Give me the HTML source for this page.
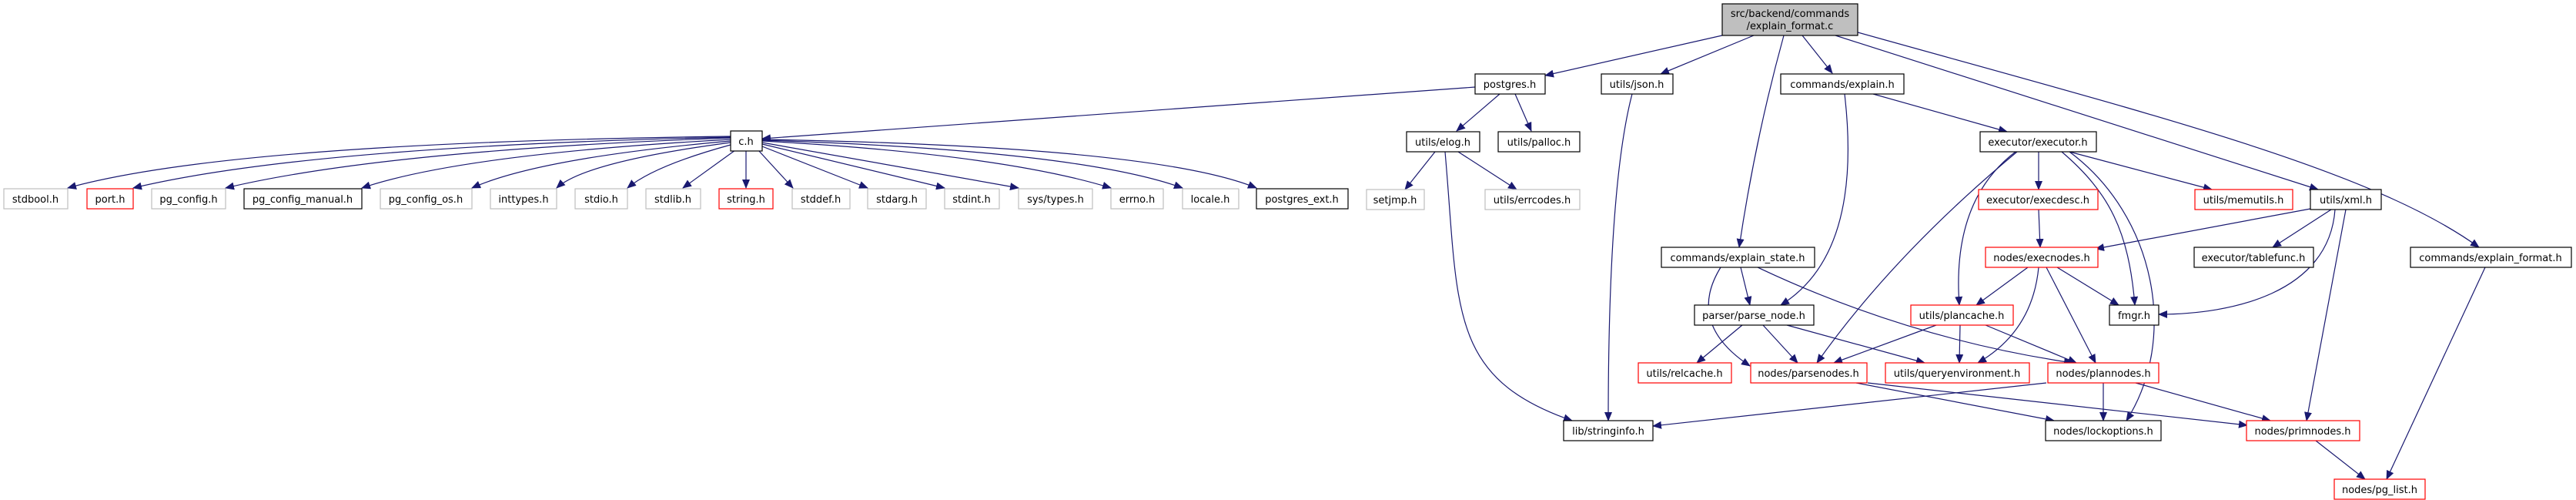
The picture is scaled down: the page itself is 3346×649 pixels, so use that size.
<!DOCTYPE html>
<html><head><meta charset="utf-8"><style>
html,body{margin:0;padding:0;background:#fff}
svg{display:block}
text{font-family:"DejaVu Sans","Liberation Sans",sans-serif;font-size:13px;fill:#000;text-anchor:middle}
.b{fill:#fff;stroke:#000;stroke-width:1.2}
.g{fill:#fff;stroke:#bfbfbf;stroke-width:1.2}
.r{fill:#fff;stroke:#ff0000;stroke-width:1.2}
.e{fill:none;stroke:#191970;stroke-width:1.2;marker-end:url(#a)}
</style></head><body>
<svg width="3346" height="649" viewBox="0 0 3346 649" xmlns="http://www.w3.org/2000/svg">
<defs><marker id="a" markerWidth="12" markerHeight="10" refX="11" refY="5" orient="auto" markerUnits="userSpaceOnUse"><path d="M0,0 L12,5 L0,10 Z" fill="#191970"/></marker></defs>

<!-- edges -->
<path class="e" d="M2237,46 L2007,98"/>
<path class="e" d="M2278,46 L2157,96"/>
<path class="e" d="M2317,46 Q2280,180 2259,321"/>
<path class="e" d="M2341,46 L2380,95"/>
<path class="e" d="M2384,46 L3011,246"/>
<path class="e" d="M2413,42 C2800,150 3080,220 3220,321"/>
<path class="e" d="M1916,113 L990,180"/>
<path class="e" d="M1948,122 L1892,170"/>
<path class="e" d="M1968,122 L1989,170"/>
<path class="e" d="M2120,122 Q2089,240 2089,546"/>
<path class="e" d="M2396,122 Q2420,330 2313,396"/>
<path class="e" d="M2433,122 L2607,171"/>
<path class="e" d="M1864,197 L1825,246"/>
<path class="e" d="M1894,197 L1970,246"/>
<path class="e" d="M1877,197 C1895,400 1880,490 2042,546"/>
<path class="e" d="M2648,197 L2648,246"/>
<path class="e" d="M2688,197 L2873,246"/>
<path class="e" d="M2678,197 C2740,250 2765,300 2773,396"/>
<path class="e" d="M2618,197 Q2535,260 2545,396"/>
<path class="e" d="M2620,197 Q2460,330 2360,471"/>
<path class="e" d="M2688,197 C2800,280 2830,440 2762,546"/>
<path class="e" d="M2648,272 L2650,321"/>
<path class="e" d="M3001,271 L2722,323"/>
<path class="e" d="M3028,272 L2952,321"/>
<path class="e" d="M3033,272 C3025,380 2900,408 2804,408"/>
<path class="e" d="M3047,272 L2996,546"/>
<path class="e" d="M2261,347 L2273,396"/>
<path class="e" d="M2235,347 Q2190,420 2273,475"/>
<path class="e" d="M2283,347 Q2480,440 2692,471"/>
<path class="e" d="M2634,347 L2567,396"/>
<path class="e" d="M2672,347 L2752,396"/>
<path class="e" d="M2658,347 L2722,471"/>
<path class="e" d="M2648,347 Q2640,430 2569,471"/>
<path class="e" d="M3228,347 L3100,622"/>
<path class="e" d="M2263,422 L2204,471"/>
<path class="e" d="M2290,422 L2335,471"/>
<path class="e" d="M2321,422 L2500,471"/>
<path class="e" d="M2515,422 L2382,471"/>
<path class="e" d="M2546,422 L2545,471"/>
<path class="e" d="M2579,422 L2697,471"/>
<path class="e" d="M2411,497 L2668,546"/>
<path class="e" d="M2426,497 L2919,552"/>
<path class="e" d="M2658,497 L2147,553"/>
<path class="e" d="M2732,497 L2732,546"/>
<path class="e" d="M2774,497 L2949,546"/>
<path class="e" d="M3008,572 L3072,622"/>
<!-- c.h fan -->
<path class="e" d="M949,177 Q300,185 88,244"/>
<path class="e" d="M949,178 Q400,190 173,244"/>
<path class="e" d="M949,179 Q500,195 293,244"/>
<path class="e" d="M949,181 Q600,200 470,244"/>
<path class="e" d="M949,183 Q700,205 613,244"/>
<path class="e" d="M949,185 Q760,210 723,244"/>
<path class="e" d="M949,188 Q850,215 815,244"/>
<path class="e" d="M955,195 L887,244"/>
<path class="e" d="M969,195 L969,244"/>
<path class="e" d="M985,195 L1030,244"/>
<path class="e" d="M990,190 L1127,244"/>
<path class="e" d="M990,187 L1227,244"/>
<path class="e" d="M990,185 L1323,244"/>
<path class="e" d="M990,183 Q1300,200 1443,244"/>
<path class="e" d="M990,182 Q1400,195 1536,244"/>
<path class="e" d="M990,181 Q1500,190 1632,244"/>

<!-- nodes -->
<rect x="2237" y="5" width="176" height="41" fill="#bfbfbf" stroke="#000" stroke-width="1.2"/>
<text x="2325" y="22">src/backend/commands</text><text x="2325" y="38">/explain_format.c</text>

<rect class="b" x="1916" y="96" width="91" height="26"/><text x="1961" y="114">postgres.h</text>
<rect class="b" x="2080" y="96" width="93" height="26"/><text x="2126" y="114">utils/json.h</text>
<rect class="b" x="2313" y="96" width="160" height="26"/><text x="2393" y="114">commands/explain.h</text>

<rect class="b" x="949" y="170" width="41" height="26"/><text x="969" y="188">c.h</text>
<rect class="b" x="1827" y="171" width="95" height="26"/><text x="1874" y="189">utils/elog.h</text>
<rect class="b" x="1946" y="171" width="106" height="26"/><text x="1999" y="189">utils/palloc.h</text>
<rect class="b" x="2572" y="171" width="151" height="26"/><text x="2647" y="189">executor/executor.h</text>

<rect class="g" x="5" y="245" width="83" height="26"/><text x="46" y="263">stdbool.h</text>
<rect class="r" x="113" y="245" width="60" height="26"/><text x="143" y="263">port.h</text>
<rect class="g" x="197" y="245" width="96" height="26"/><text x="245" y="263">pg_config.h</text>
<rect class="b" x="317" y="245" width="153" height="26"/><text x="393" y="263">pg_config_manual.h</text>
<rect class="g" x="494" y="245" width="119" height="26"/><text x="553" y="263">pg_config_os.h</text>
<rect class="g" x="637" y="245" width="86" height="26"/><text x="680" y="263">inttypes.h</text>
<rect class="g" x="747" y="245" width="68" height="26"/><text x="781" y="263">stdio.h</text>
<rect class="g" x="839" y="245" width="71" height="26"/><text x="874" y="263">stdlib.h</text>
<rect class="r" x="934" y="245" width="70" height="26"/><text x="969" y="263">string.h</text>
<rect class="g" x="1029" y="245" width="75" height="26"/><text x="1066" y="263">stddef.h</text>
<rect class="g" x="1127" y="245" width="76" height="26"/><text x="1165" y="263">stdarg.h</text>
<rect class="g" x="1227" y="245" width="71" height="26"/><text x="1262" y="263">stdint.h</text>
<rect class="g" x="1323" y="245" width="96" height="26"/><text x="1371" y="263">sys/types.h</text>
<rect class="g" x="1443" y="245" width="68" height="26"/><text x="1477" y="263">errno.h</text>
<rect class="g" x="1536" y="245" width="73" height="26"/><text x="1572" y="263">locale.h</text>
<rect class="b" x="1632" y="245" width="119" height="26"/><text x="1691" y="263">postgres_ext.h</text>
<rect class="g" x="1775" y="246" width="75" height="26"/><text x="1812" y="264">setjmp.h</text>
<rect class="g" x="1929" y="246" width="123" height="26"/><text x="1990" y="264">utils/errcodes.h</text>
<rect class="r" x="2570" y="246" width="155" height="26"/><text x="2647" y="264">executor/execdesc.h</text>
<rect class="r" x="2851" y="246" width="127" height="26"/><text x="2914" y="264">utils/memutils.h</text>
<rect class="b" x="3001" y="246" width="92" height="26"/><text x="3047" y="264">utils/xml.h</text>

<rect class="b" x="2158" y="321" width="199" height="26"/><text x="2257" y="339">commands/explain_state.h</text>
<rect class="r" x="2579" y="321" width="146" height="26"/><text x="2652" y="339">nodes/execnodes.h</text>
<rect class="b" x="2850" y="321" width="155" height="26"/><text x="2927" y="339">executor/tablefunc.h</text>
<rect class="b" x="3131" y="321" width="209" height="26"/><text x="3235" y="339">commands/explain_format.h</text>

<rect class="b" x="2201" y="396" width="155" height="26"/><text x="2278" y="414">parser/parse_node.h</text>
<rect class="r" x="2482" y="396" width="133" height="26"/><text x="2548" y="414">utils/plancache.h</text>
<rect class="b" x="2740" y="396" width="64" height="26"/><text x="2772" y="414">fmgr.h</text>

<rect class="r" x="2128" y="471" width="121" height="26"/><text x="2188" y="489">utils/relcache.h</text>
<rect class="r" x="2274" y="471" width="151" height="26"/><text x="2349" y="489">nodes/parsenodes.h</text>
<rect class="r" x="2449" y="471" width="187" height="26"/><text x="2542" y="489">utils/queryenvironment.h</text>
<rect class="r" x="2660" y="471" width="144" height="26"/><text x="2732" y="489">nodes/plannodes.h</text>

<rect class="b" x="2031" y="546" width="116" height="26"/><text x="2089" y="564">lib/stringinfo.h</text>
<rect class="b" x="2657" y="546" width="150" height="26"/><text x="2732" y="564">nodes/lockoptions.h</text>
<rect class="r" x="2918" y="546" width="147" height="26"/><text x="2991" y="564">nodes/primnodes.h</text>

<rect class="r" x="3032" y="622" width="118" height="26"/><text x="3091" y="640">nodes/pg_list.h</text>
</svg>
</body></html>
